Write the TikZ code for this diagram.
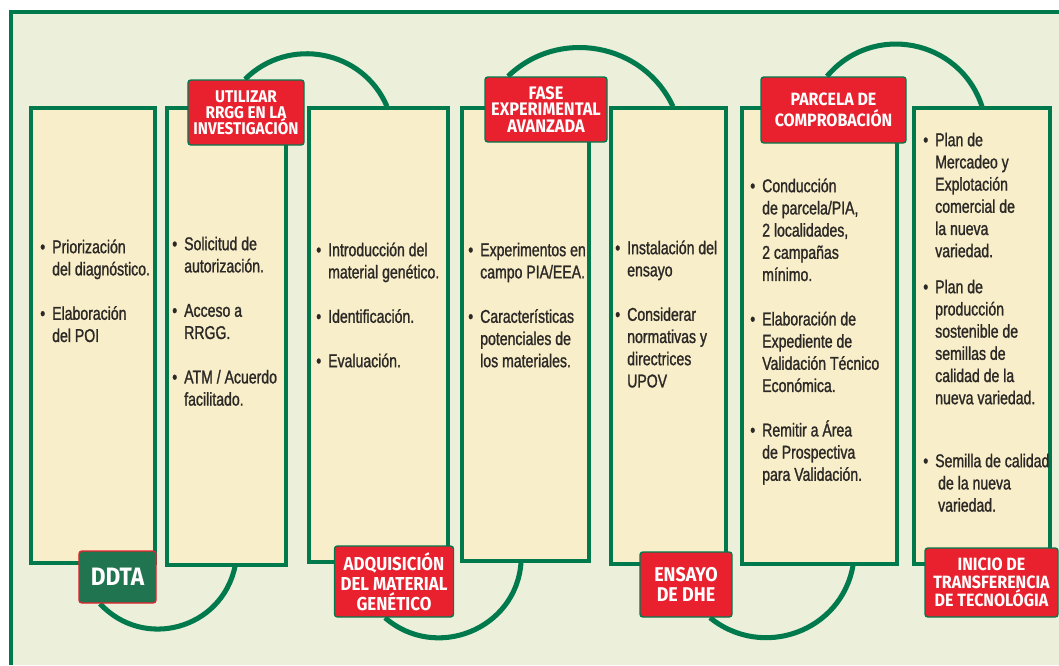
\documentclass[tikz,border=0pt]{standalone}
\usepackage{fontspec}
\setmainfont{Liberation Sans}[FakeStretch=0.76,FakeBold=1.2]
\newfontfamily\tagfont{Fira Sans}[FakeStretch=0.9]
\usetikzlibrary{fit,calc,backgrounds}
\definecolor{leaf}{RGB}{0,121,77}
\definecolor{paper}{RGB}{236,239,217}
\definecolor{cream}{RGB}{248,238,201}
\definecolor{flag}{RGB}{233,33,46}
\definecolor{moss}{RGB}{33,116,80}
\definecolor{ink}{RGB}{43,40,38}
\newcommand\itm{\strut\llap{\textbullet\hspace{6pt}}}
\setlength{\lineskiplimit}{-20pt}

\begin{document}
\begin{tikzpicture}
      [   x=0.03cm, y=0.03cm,
          colbox/.style={draw=leaf,fill=cream,line width=2.6pt,inner sep=0pt},
          tag/.style={draw=leaf,fill=#1,line width=1.2pt,rounded corners=2.5pt,text=white,align=center,inner sep=0pt,
                      font=\tagfont\bfseries\fontsize{14.5}{13.6}\selectfont},
          tag/.default=flag,
          link/.style={draw=leaf,line width=4.3pt},
          txt/.style={anchor=north west,align=left,text=ink,inner sep=0pt,font=\fontsize{15.8}{18.95}\selectfont},
      ]
          \useasboundingbox (0,0) rectangle (1059,-665);
          \foreach \n/\xa/\xb/\yb in {1/31/155/563,2/167/286/565,3/309/448/562,4/462/589/561,5/611/726/564,6/742/897/564,7/914/1050/564}
              \node[colbox,fit={(\xa,-108) (\xb,-\yb)}] (b\n) {};

          \node[tag,minimum width=3.48cm,minimum height=1.95cm] (utilizar) at (246,-112.5) {UTILIZAR\\RRGG EN LA\\INVESTIGACIÓN};
          \node[tag=moss,draw=flag,minimum width=2.31cm,minimum height=1.56cm,font=\tagfont\bfseries\fontsize{21.5}{22}\selectfont] (ddta) at (117.5,-577) {DDTA};
          \node[tag,minimum width=3.57cm,minimum height=2.13cm,font=\tagfont\bfseries\fontsize{16}{17}\selectfont] (adquisicion) at (394,-581.5) {ADQUISICIÓN\\DEL MATERIAL\\GENÉTICO};
          \node[tag,minimum width=3.66cm,minimum height=1.95cm,font=\tagfont\bfseries\fontsize{15.5}{13.9}\selectfont] (fase) at (546,-109.5) {FASE\\EXPERIMENTAL\\AVANZADA};
          \node[tag,minimum width=2.76cm,minimum height=1.95cm,font=\tagfont\bfseries\fontsize{17}{17.5}\selectfont] (ensayo) at (686,-584.5) {ENSAYO\\DE DHE};
          \node[tag,minimum width=4.35cm,minimum height=1.98cm,font=\tagfont\bfseries\fontsize{15.2}{17.7}\selectfont] (parcela) at (833.5,-110) {PARCELA DE\\COMPROBACIÓN};
          \node[tag,minimum width=3.99cm,minimum height=2.07cm,font=\tagfont\bfseries\fontsize{15.2}{15.6}\selectfont] (inicio) at (991.5,-582.5) {INICIO DE\\TRANSFERENCIA\\DE TECNOLÓGIA};

          \node[txt] (t1) at (52,-237.4) {\itm Priorización\\del diagnóstico.\\[\baselineskip]\itm Elaboración\\del POI};
          \node[txt] (t2) at (184,-234.4) {\itm Solicitud de\\autorización.\\[\baselineskip]\itm Acceso a\\RRGG.\\[\baselineskip]\itm ATM / Acuerdo\\facilitado.};
          \node[txt] (t3) at (328,-240.4) {\itm Introducción del\\material genético.\\[\baselineskip]\itm Identificación.\\[\baselineskip]\itm Evaluación.};
          \node[txt] (t4) at (480,-240.4) {\itm Experimentos en\\campo PIA/EEA.\\[\baselineskip]\itm Características\\potenciales de\\los materiales.};
          \node[txt] (t5) at (627,-238.4) {\itm Instalación del\\ensayo\\[\baselineskip]\itm Considerar\\normativas y\\directrices\\UPOV};
          \node[txt] (t6) at (762,-176.4) {\itm Conducción\\de parcela/PIA,\\2 localidades,\\2 campañas\\mínimo.\\[\baselineskip]\itm Elaboración de\\Expediente de\\Validación Técnico\\Económica.\\[\baselineskip]\itm Remitir a Área\\de Prospectiva\\para Validación.};
          \node[txt] (t7) at (935,-130.4) {\itm Plan de\\Mercadeo y\\Explotación\\comercial de\\la nueva\\variedad.\\[11.8pt]\itm Plan de\\producción\\sostenible de\\semillas de\\calidad de la\\nueva variedad.\\[34.8pt]\itm Semilla de calidad\\\hspace*{2.5pt}de la nueva\\\hspace*{2.5pt}variedad.};

          \begin{pgfonlayer}{background}
              \fill[paper] (11,-12) rectangle (1059,-665);
              \draw[leaf,line width=3.4pt] (11,-665) -- (11,-12) -- (1059,-12);
              \draw[link] ($(utilizar.north)+(-1,0)$) to[out=45,in=113,looseness=1.09] ($(b3.north)+(8.5,0)$);
              \draw[link] ($(fase.north)+(-38,0)$) to[out=44,in=115,looseness=1.07] ($(b5.north)+(4.5,0)$);
              \draw[link] ($(parcela.north)+(-6.5,0)$) to[out=50,in=108,looseness=1.15] (b7.north);
              \draw[link] ($(ddta.south)+(-17.5,0)$) to[out=-47,in=-102,looseness=1.17] ($(b2.south)+(8.5,0)$);
              \draw[link] ($(adquisicion.south)+(-9,0)$) to[out=-41,in=-94,looseness=1.17] ($(b4.south)+(-4.5,0)$);
              \draw[link] ($(ensayo.south)+(24,0)$) to[out=-39,in=-100,looseness=1.13] ($(b6.south)+(33.5,0)$);
          \end{pgfonlayer}
    \end{tikzpicture}
\end{document}
